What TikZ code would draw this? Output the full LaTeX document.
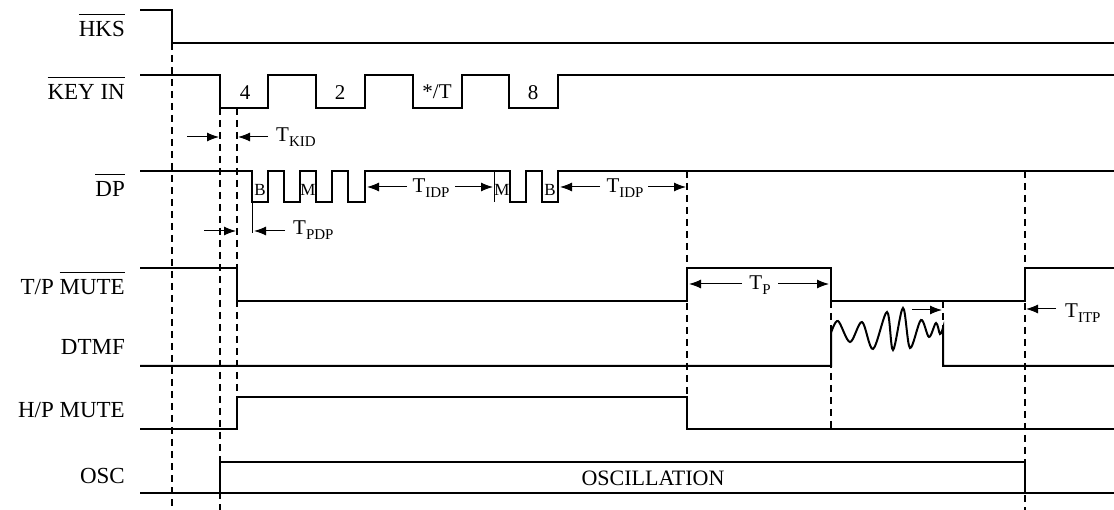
\documentclass[tikz,border=0pt]{standalone}
\usepackage{fontspec}
\setmainfont{Liberation Serif}
\usetikzlibrary{arrows.meta}
\newcommand{\ovbar}[1]{\leavevmode\vbox{\hrule height 1.1pt\kern 7pt\hbox{#1}}}
\newcommand{\Tsub}[1]{T\raisebox{-4.5pt}{\fontsize{15}{15}\selectfont #1}}
\begin{document}
\begin{tikzpicture}[x=1pt,y=-1pt,
  sig/.style={line width=2pt, line join=miter},
  guide/.style={line width=1.5pt, dash pattern=on 7pt off 5pt},
  thin/.style={line width=0.9pt},
  arr/.style={line width=1pt, -{Latex[length=12pt,width=9pt]}},
  lab/.style={anchor=base east, inner sep=0pt, font=\fontsize{23}{25}\selectfont},
  dig/.style={anchor=base, inner sep=0pt, font=\fontsize{21}{23}\selectfont},
  bm/.style={anchor=base, inner sep=0pt, font=\fontsize{17}{19}\selectfont},
  tl/.style={inner sep=0pt, font=\fontsize{21}{23}\selectfont}]
\useasboundingbox (0,0) rectangle (1114,510);

% guide lines
\draw[guide] (172,43) -- (172,510);
\draw[guide] (220,108) -- (220,510);
\draw[guide] (237,108) -- (237,397);
\draw[guide] (687,171) -- (687,429);
\draw[guide] (831,301) -- (831,429);
\draw[guide] (943,301) -- (943,332);
\draw[guide] (1025,171) -- (1025,510);

% labels
\node[lab] (lhks) at (125,37) {\ovbar{HKS}};
\node[lab] (lkey) at (125,100) {\ovbar{KEY IN}};
\node[lab] (ldp) at (125,197) {\ovbar{DP}};
\node[lab] (ltp) at (125,295) {T/P \ovbar{MUTE}};
\node[lab] (ldtmf) at (125,355) {DTMF};
\node[lab] (lhp) at (125,418) {H/P MUTE};
\node[lab] (losc) at (125,483) {OSC};

% HKS
\draw[sig] (140,10) -- (172,10) -- (172,43) -- (1114,43);

% KEY IN
\draw[sig] (140,75) -| (220,108) -| (268,75) -| (316,108) -| (365,75) -| (413,108)
  -| (462,75) -| (509,108) -| (558,75) -- (1114,75);
\node[dig] (k4) at (245,100) {4};
\node[dig] (k2) at (340,100) {2};
\node[dig] (kt) at (437,99) {*/T};
\node[dig] (k8) at (533,100) {8};

% T_KID
\coordinate (kidA) at (187,137); \coordinate (kidB) at (219,137);
\coordinate (kidC) at (268,137); \coordinate (kidD) at (238,137);
\draw[arr] (kidA) -- (kidB);
\draw[arr] (kidC) -- (kidD);
\node[tl, anchor=base west] (tkid) at (276,142) {\Tsub{KID}};

% DP
\draw[sig] (140,171) -| (252,202) -| (268,171) -| (284,202) -| (300,171) -| (316,202)
  -| (332,171) -| (348,202) -| (365,171) -| (510,202) -| (526,171) -| (542,202)
  -| (558,171) -- (1114,171);
\draw[thin] (252,202) -- (252,233);
\draw[thin] (494,171) -- (494,202);
\node[bm] (b1) at (260,196) {B};
\node[bm] (m1) at (308,196) {M};
\node[bm] (m2) at (502,196) {M};
\node[bm] (b2) at (550,196) {B};

% T_PDP
\coordinate (pdpA) at (204,231); \coordinate (pdpB) at (236,231);
\coordinate (pdpC) at (285,231); \coordinate (pdpD) at (254,231);
\draw[arr] (pdpA) -- (pdpB);
\draw[arr] (pdpC) -- (pdpD);
\node[tl, anchor=base west] (tpdp) at (293,235) {\Tsub{PDP}};

% T_IDP (1)
\node[tl, anchor=base] (tidp1) at (431,193) {\Tsub{IDP}};
\coordinate (i1a) at (407,187); \coordinate (i1b) at (367,187);
\coordinate (i1c) at (455,187); \coordinate (i1d) at (493,187);
\draw[arr] (i1a) -- (i1b);
\draw[arr] (i1c) -- (i1d);
% T_IDP (2)
\node[tl, anchor=base] (tidp2) at (625,193) {\Tsub{IDP}};
\coordinate (i2a) at (600,187); \coordinate (i2b) at (560,187);
\coordinate (i2c) at (648,187); \coordinate (i2d) at (686,187);
\draw[arr] (i2a) -- (i2b);
\draw[arr] (i2c) -- (i2d);

% T/P MUTE
\draw[sig] (140,268) -| (237,301) -| (687,268) -| (831,301) -| (1025,268) -- (1114,268);
\node[tl, anchor=base] (tp) at (760,290) {\Tsub{P}};
\coordinate (pA) at (742,284); \coordinate (pB) at (689,284);
\coordinate (pC) at (778,284); \coordinate (pD) at (829,284);
\draw[arr] (pA) -- (pB);
\draw[arr] (pC) -- (pD);

% T_ITP
\coordinate (itA) at (1056,309); \coordinate (itB) at (1026,309);
\draw[arr] (itA) -- (itB);
\node[tl, anchor=base west] (titp) at (1065,318) {\Tsub{ITP}};

% DTMF
\draw[sig] (140,366) -- (831,366) -- (831,333)
  plot[smooth, tension=0.55] coordinates {(831,333) (838,321) (850,342) (862,322) (873,349)
   (887,312) (893,350) (903,308) (910,348) (921,320) (929,337) (936,323) (940,334) (943,328)}
  -- (943,366) -- (1114,366);
\coordinate (dA) at (912,310); \coordinate (dB) at (942,310);
\draw[arr] (dA) -- (dB);

% H/P MUTE
\draw[sig] (140,429) -| (237,397) -| (687,429) -- (1114,429);

% OSC
\draw[sig] (140,493) -- (1114,493);
\draw[sig] (220,493) -- (220,462) -- (1025,462) -- (1025,493);
\node[anchor=base, inner sep=0pt, font=\fontsize{22}{24}\selectfont] (osctxt) at (653,485) {OSCILLATION};
\end{tikzpicture}
\end{document}
